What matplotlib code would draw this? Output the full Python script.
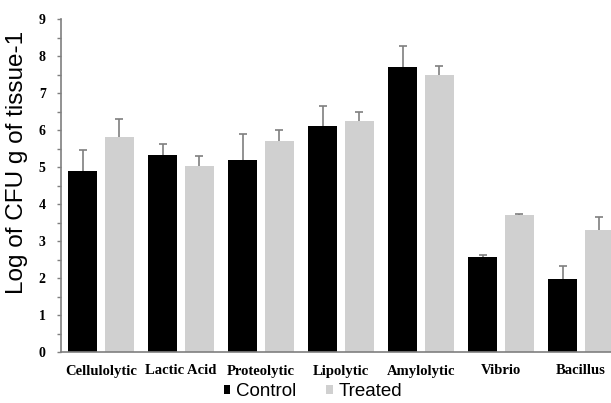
import numpy as np
import matplotlib.pyplot as plt

categories = ['Cellulolytic', 'Lactic Acid', 'Proteolytic', 'Lipolytic',
              'Amylolytic', 'Vibrio', 'Bacillus']
control = [4.89, 5.33, 5.20, 6.12, 7.69, 2.57, 1.98]
control_err = [0.57, 0.30, 0.69, 0.54, 0.58, 0.06, 0.34]
treated = [5.82, 5.02, 5.71, 6.25, 7.49, 3.71, 3.30]
treated_err = [0.49, 0.29, 0.30, 0.25, 0.25, 0.02, 0.36]


def upper_err(ax, xs, ys, errs):
    # only the upper half of the error bar, cap on top
    ys = np.array(ys)
    tops = ys + np.array(errs)
    ax.vlines(xs, ys, tops, color='#7f7f7f', lw=1.2, zorder=1)
    ax.plot(xs, tops, ls='none', marker='_', ms=6, mew=1.2, color='#7f7f7f', zorder=1)


def main():
    fig = plt.figure(figsize=(6.11, 4.03), dpi=100)
    ax = fig.add_axes([61 / 611, 51 / 403, 560 / 611, 333 / 403])

    x = np.arange(len(categories))
    w = 0.3625
    off = 0.231
    ax.bar(x - off, control, w, color='black', label='Control', zorder=2)
    ax.bar(x + off, treated, w, color='#d0d0d0', label='Treated', zorder=2)
    upper_err(ax, x - off, control, control_err)
    upper_err(ax, x + off, treated, treated_err)

    ax.set_xlim(-0.5, len(categories) - 0.5)
    ax.set_ylim(0, 9)
    ax.set_yticks(range(10))
    ax.set_yticks(np.arange(0, 9, 0.5), minor=True)
    ax.set_xticks(x)
    ax.set_xticklabels(categories, family='Liberation Serif', fontweight='bold', fontsize=10.5)
    for lab in ax.get_yticklabels():
        lab.set_family('Liberation Serif')
        lab.set_fontweight('bold')
        lab.set_fontsize(10)
    ax.tick_params(axis='x', length=0, pad=9)
    ax.tick_params(axis='y', which='major', length=3, width=1, color='#7f7f7f', direction='out', pad=8)
    ax.tick_params(axis='y', which='minor', length=3, width=1, color='#7f7f7f', direction='out')
    for s in ['top', 'right']:
        ax.spines[s].set_visible(False)
    for s in ['left', 'bottom']:
        ax.spines[s].set_color('#7f7f7f')
        ax.spines[s].set_linewidth(1.2)

    ax.set_ylabel('Log of CFU g of tissue-1', family='Liberation Sans', fontsize=17.5)
    ax.yaxis.set_label_coords(-33 / 560, 0.568)

    fig.legend(loc='center', bbox_to_anchor=(313 / 611, 1 - 392 / 403), ncol=2,
               frameon=False, prop={'family': 'Liberation Sans', 'size': 13.5},
               handlelength=0.35, handleheight=0.35, handletextpad=0.3, columnspacing=1.6,
               borderpad=0)

    fig.savefig('out.png', dpi=100)


if __name__ == '__main__':
    main()
